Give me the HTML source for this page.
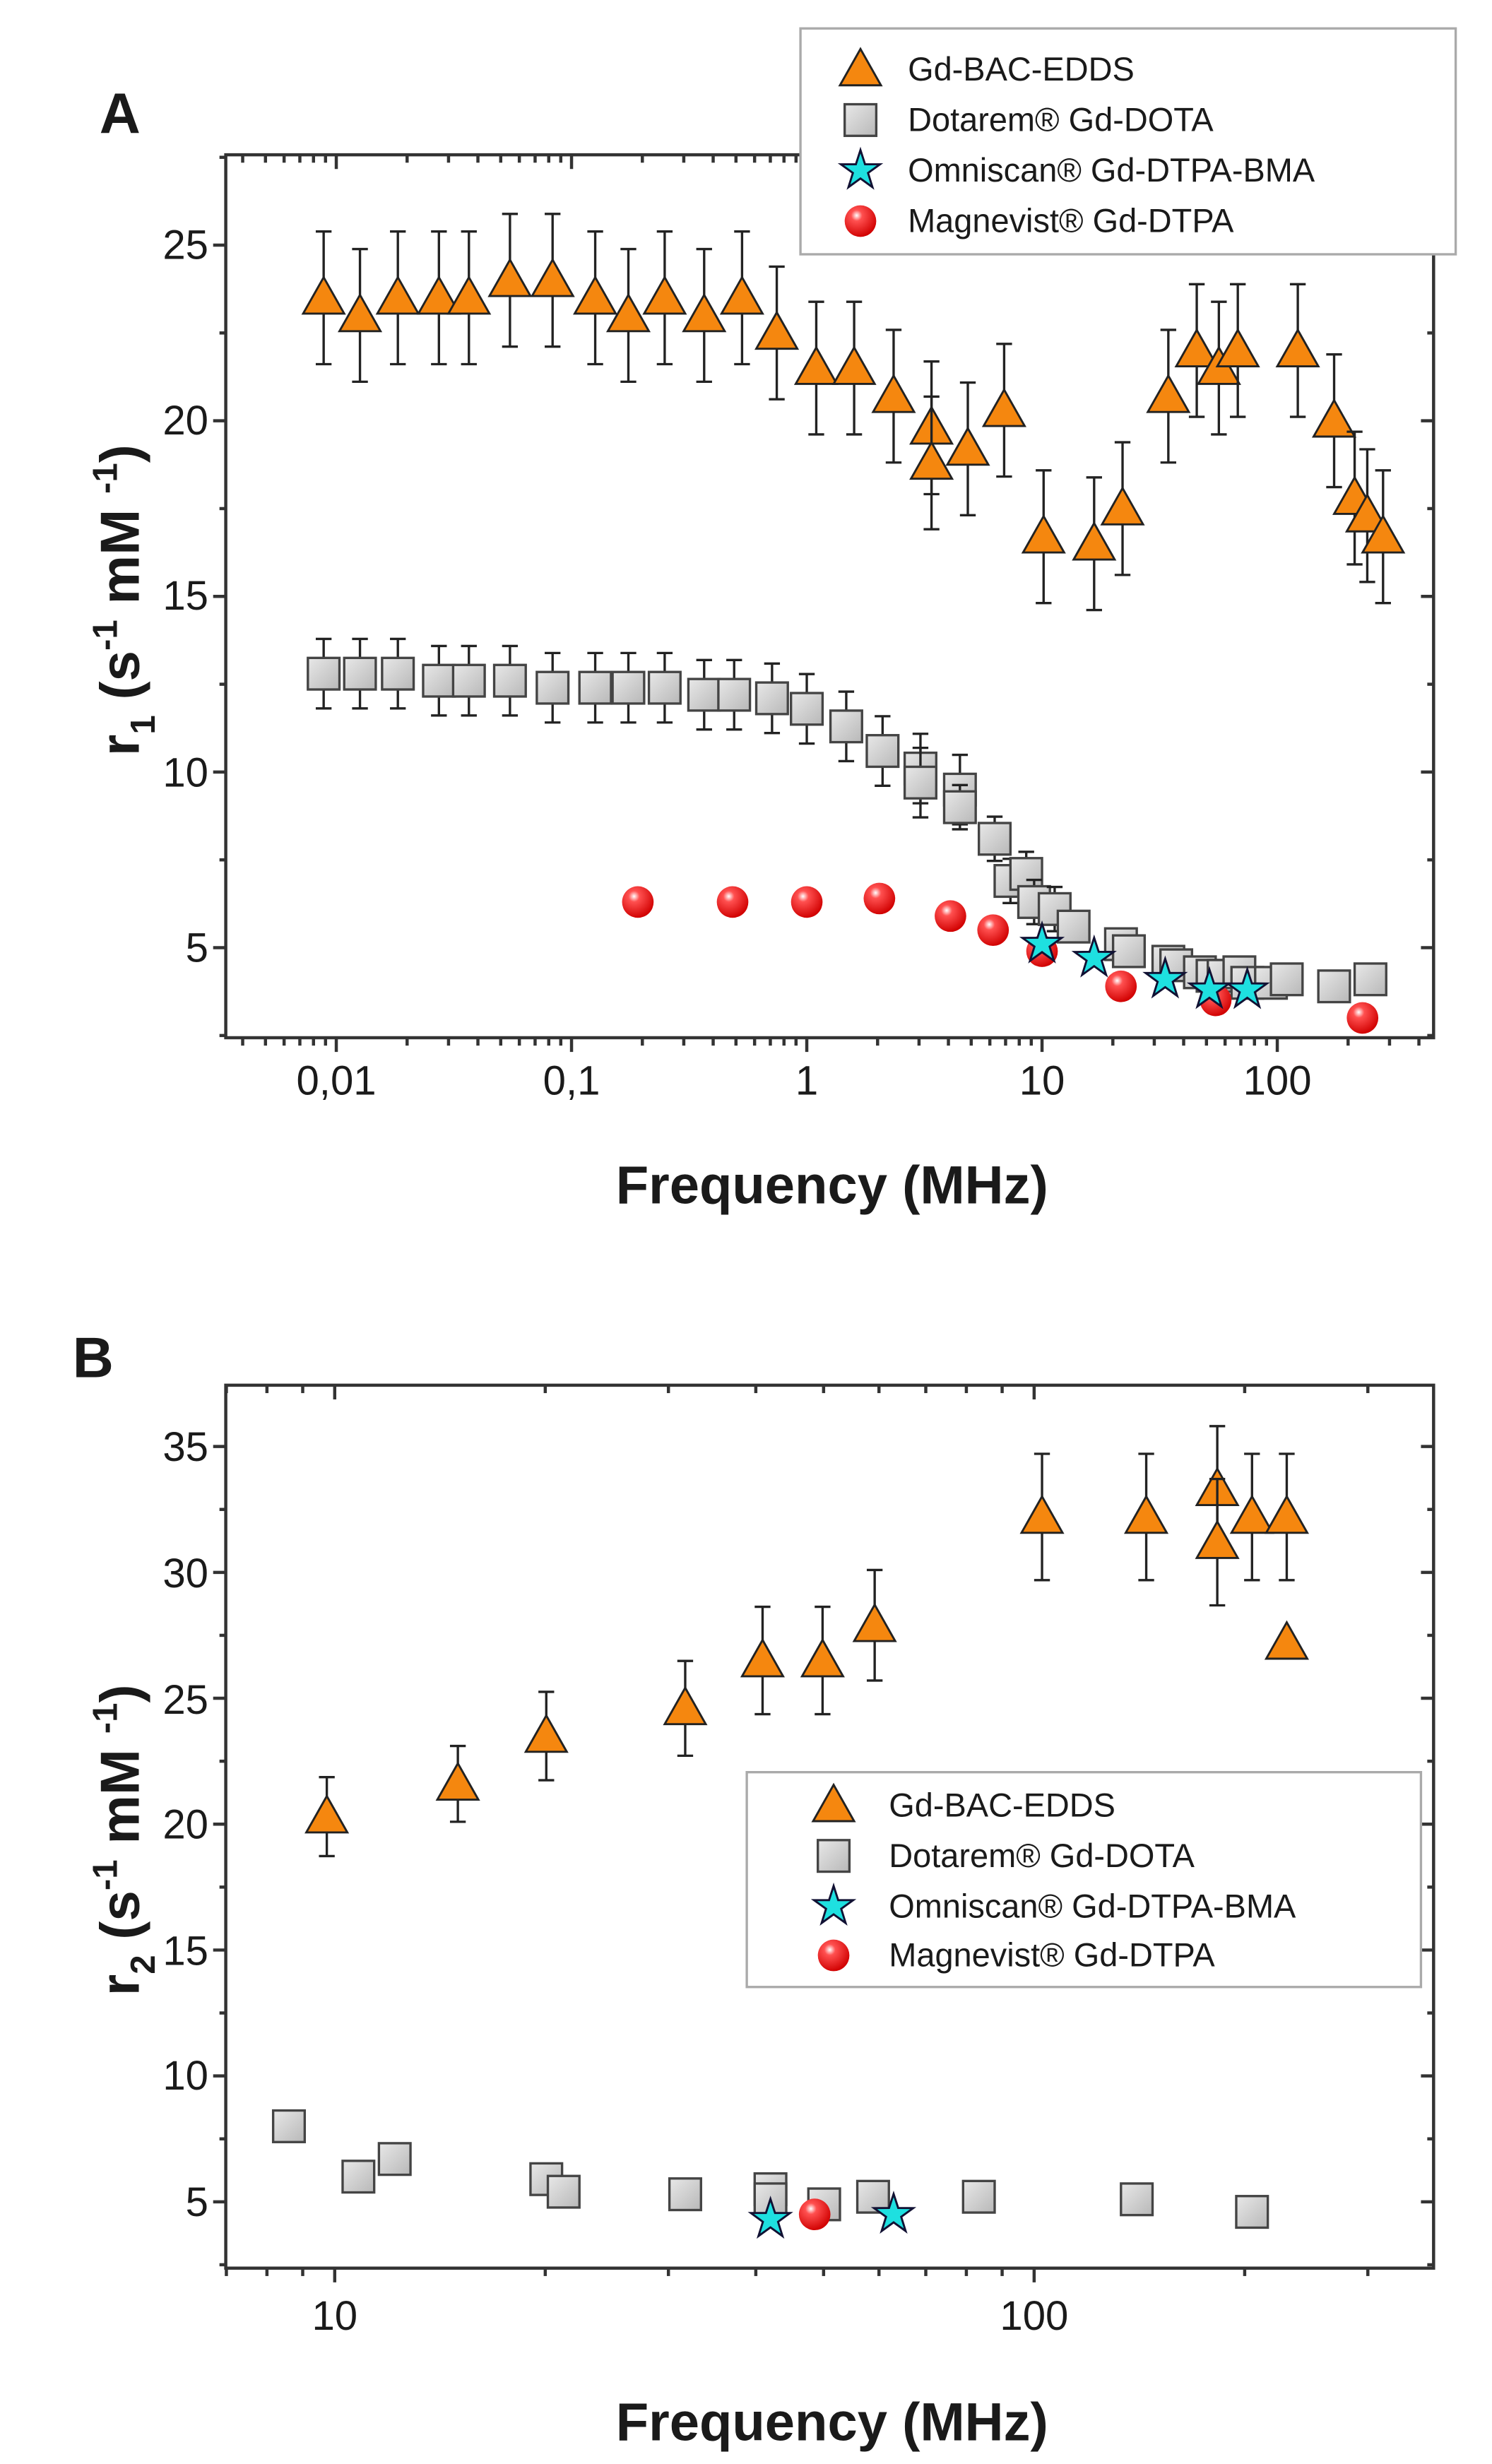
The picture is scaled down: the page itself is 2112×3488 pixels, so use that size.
<!DOCTYPE html>
<html><head><meta charset="utf-8"><style>
html,body{margin:0;padding:0;background:#fff}
svg{display:block}
text{font-family:"Liberation Sans",Arial,sans-serif;fill:#1a1a1a}
</style></head><body>
<svg id="s" width="2112" height="3488" viewBox="0 0 945 1560" preserveAspectRatio="none" xmlns="http://www.w3.org/2000/svg">
<defs>
<radialGradient id="rg" cx="0.38" cy="0.32" r="0.7">
<stop offset="0" stop-color="#fff"/><stop offset="0.25" stop-color="#ff5050"/><stop offset="1" stop-color="#d00000"/></radialGradient>
<linearGradient id="gg" x1="0" y1="0" x2="1" y2="1"><stop offset="0" stop-color="#e8e8e8"/><stop offset="1" stop-color="#b8b8b8"/></linearGradient>
</defs>
<g id="axes" stroke="#333" fill="none" stroke-width="2"></g>
<g id="pts"></g>
<text x="63" y="84" font-size="36" font-weight="bold">A</text>
<g font-size="26" text-anchor="end">
<text x="132" y="164">25</text><text x="132" y="275">20</text><text x="132" y="386">15</text><text x="132" y="498">10</text><text x="132" y="609">5</text>
</g>
<g font-size="26" text-anchor="middle">
<text x="213" y="693">0,01</text><text x="362" y="693">0,1</text><text x="511" y="693">1</text><text x="660" y="693">10</text><text x="809" y="693">100</text>
</g>
<text x="527" y="762" font-size="34" font-weight="bold" text-anchor="middle">Frequency (MHz)</text>
<text transform="translate(88,380) rotate(-90)" font-size="35" font-weight="bold" text-anchor="middle">r<tspan font-size="22" dy="10">1</tspan><tspan dy="-10"> (s</tspan><tspan font-size="22" dy="-14">-1</tspan><tspan dy="14"> mM </tspan><tspan font-size="22" dy="-14">-1</tspan><tspan dy="14">)</tspan></text>
<text x="46" y="872" font-size="36" font-weight="bold">B</text>
<g font-size="26" text-anchor="end">
<text x="132" y="925">35</text><text x="132" y="1005">30</text><text x="132" y="1085">25</text><text x="132" y="1164">20</text><text x="132" y="1244">15</text><text x="132" y="1323">10</text><text x="132" y="1403">5</text>
</g>
<g font-size="26" text-anchor="middle">
<text x="212" y="1475">10</text><text x="655" y="1475">100</text>
</g>
<text x="527" y="1545" font-size="34" font-weight="bold" text-anchor="middle">Frequency (MHz)</text>
<text transform="translate(88,1165) rotate(-90)" font-size="35" font-weight="bold" text-anchor="middle">r<tspan font-size="22" dy="10">2</tspan><tspan dy="-10"> (s</tspan><tspan font-size="22" dy="-14">-1</tspan><tspan dy="14"> mM </tspan><tspan font-size="22" dy="-14">-1</tspan><tspan dy="14">)</tspan></text>
<rect x="507" y="18" width="415" height="143" fill="#fff" stroke="#aaa" stroke-width="1.5"/>
<g font-size="21">
<text x="575" y="51">Gd-BAC-EDDS</text><text x="575" y="83">Dotarem® Gd-DOTA</text><text x="575" y="115">Omniscan® Gd-DTPA-BMA</text><text x="575" y="147">Magnevist® Gd-DTPA</text>
</g>
<rect x="473" y="1122" width="427" height="136" fill="#fff" stroke="#aaa" stroke-width="1.5"/>
<g font-size="21">
<text x="563" y="1150">Gd-BAC-EDDS</text><text x="563" y="1182">Dotarem® Gd-DOTA</text><text x="563" y="1214">Omniscan® Gd-DTPA-BMA</text><text x="563" y="1245">Magnevist® Gd-DTPA</text>
</g>
<g id="leg"></g>
</svg>
<script>
var NS="http://www.w3.org/2000/svg";
function el(p,t,a){var e=document.createElementNS(NS,t);for(var k in a)e.setAttribute(k,a[k]);p.appendChild(e);return e;}
var ax=document.getElementById('axes'),pts=document.getElementById('pts'),leg=document.getElementById('leg');
function frame(L,R,T,B,yt,ymin,ymax,ypu,ybase,ybaseY,dec0x,decw,dmin,dmax){
 el(ax,'rect',{x:L,y:T,width:R-L,height:B-T});
 for(var v=ymin;v<=ymax+1e-6;v+=2.5){var y=ybaseY-(v-ybase)*ypu;if(y<T-0.5||y>B+0.5)continue;var maj=Math.abs(v%5)<1e-6;var l=maj?8:4;
  el(ax,'line',{x1:L-l,y1:y,x2:L,y2:y});el(ax,'line',{x1:R-l,y1:y,x2:R,y2:y});}
 for(var d=dmin;d<=dmax;d++){for(var m=1;m<10;m++){var x=dec0x+(d+Math.log10(m))*decw;if(x<L||x>R)continue;var l=m==1?9:5;
  el(ax,'line',{x1:x,y1:B,x2:x,y2:B+l});el(ax,'line',{x1:x,y1:T,x2:x,y2:T+l});}}
}
frame(143,908,98,657,0,2.5,27.5,22.24,5,600,511,149,-3,2);
frame(143,908,877,1436,0,2.5,37.5,15.94,5,1394,212-443,443,0,2);
function eb(x,y,e,g){if(!e)return;el(g,'line',{x1:x,y1:y-e,x2:x,y2:y+e,stroke:'#222','stroke-width':1.5});
 el(g,'line',{x1:x-5,y1:y-e,x2:x+5,y2:y-e,stroke:'#222','stroke-width':1.5});el(g,'line',{x1:x-5,y1:y+e,x2:x+5,y2:y+e,stroke:'#222','stroke-width':1.5});}
function tri(g,x,y){el(g,'polygon',{points:(x-13)+','+(y+10)+' '+(x+13)+','+(y+10)+' '+x+','+(y-13),fill:'#f5870f',stroke:'#222','stroke-width':1.3});}
function sq(g,x,y){el(g,'rect',{x:x-10,y:y-10,width:20,height:20,fill:'url(#gg)',stroke:'#444','stroke-width':1.5});}
function sph(g,x,y){el(g,'circle',{cx:x,cy:y,r:10,fill:'url(#rg)'});}
function star(g,x,y){var p=[];for(var i=0;i<10;i++){var r=i%2?5:13,a=-Math.PI/2+i*Math.PI/5;p.push((x+r*Math.cos(a)).toFixed(1)+','+(y+r*Math.sin(a)).toFixed(1));}
 el(g,'polygon',{points:p.join(' '),fill:'#1ee0e0',stroke:'#113','stroke-width':1.3});}
var yA=function(v){return 600-(v-5)*22.24};
var tx=[205,228,252,278,297,323,350,377,398,421,446,470,492,517,541,566,590,590,613,636,661,693,711,740,758,772,784,822,845,858,866,876];
var tv=[23.5,23,23.5,23.5,23.5,24,24,23.5,23,23.5,23,23.5,22.5,21.5,21.5,20.7,19.8,18.8,19.2,20.3,16.7,16.5,17.5,20.7,22,21.5,22,22,20,17.8,17.3,16.7];
var sx=[205,228,252,278,297,323,350,377,398,421,446,465,489,511,536,559,583,583,608,608,630,640,650,655,668,680,710,715,740,745,760,768,775,785,790,805,815,845,868];
var sv=[12.8,12.8,12.8,12.6,12.6,12.6,12.4,12.4,12.4,12.4,12.2,12.2,12.1,11.8,11.3,10.6,10.1,9.7,9.5,9.0,8.1,6.9,7.1,6.3,6.1,5.6,5.1,4.9,4.6,4.5,4.3,4.2,4.2,4.3,4.0,4.0,4.1,3.9,4.1];
for(var i=0;i<sx.length;i++){var y=yA(sv[i]);eb(sx[i],y,sv[i]>9?22:(sv[i]>6?14:6),pts);sq(pts,sx[i],y);}
var hx=[404,464,511,557,602,629,660,710,770,863],hv=[6.3,6.3,6.3,6.4,5.9,5.5,4.9,3.9,3.5,3.0];
for(var i=0;i<hx.length;i++){var y=yA(hv[i]);eb(hx[i],y,i>5?8:0,pts);sph(pts,hx[i],y);}
var stx=[660,693,738,766,790],stv=[5.1,4.7,4.1,3.8,3.8];
for(var i=0;i<stx.length;i++){star(pts,stx[i],yA(stv[i]));}
for(var i=0;i<tx.length;i++){var y=yA(tv[i]);eb(tx[i],y,42,pts);tri(pts,tx[i],y);}
var yB=function(v){return 1394-(v-5)*15.94};
var bsx=[183,227,250,346,357,434,488,488,522,553,620,720,793],bsv=[8.0,6.0,6.7,5.9,5.4,5.3,5.5,5.1,4.9,5.2,5.2,5.1,4.6];
for(var i=0;i<bsx.length;i++){sq(pts,bsx[i],yB(bsv[i]));}
sph(pts,516,yB(4.5));star(pts,488,yB(4.3));star(pts,566,yB(4.5));
var btx=[207,290,346,434,483,521,554,660,726,771,771,793,815,815],btv=[20.3,21.6,23.5,24.6,26.5,26.5,27.9,32.2,32.2,33.3,31.2,32.2,32.2,27.2];
var bte=[25,24,28,30,34,34,35,40,40,40,40,40,40,0];
for(var i=0;i<btx.length;i++){var y=yB(btv[i]);eb(btx[i],y,bte[i],pts);tri(pts,btx[i],y);}
tri(leg,545,44);sq(leg,545,76);star(leg,545,108);sph(leg,545,140);
tri(leg,528,1143);sq(leg,528,1175);star(leg,528,1207);sph(leg,528,1238);
</script>
</body></html>
